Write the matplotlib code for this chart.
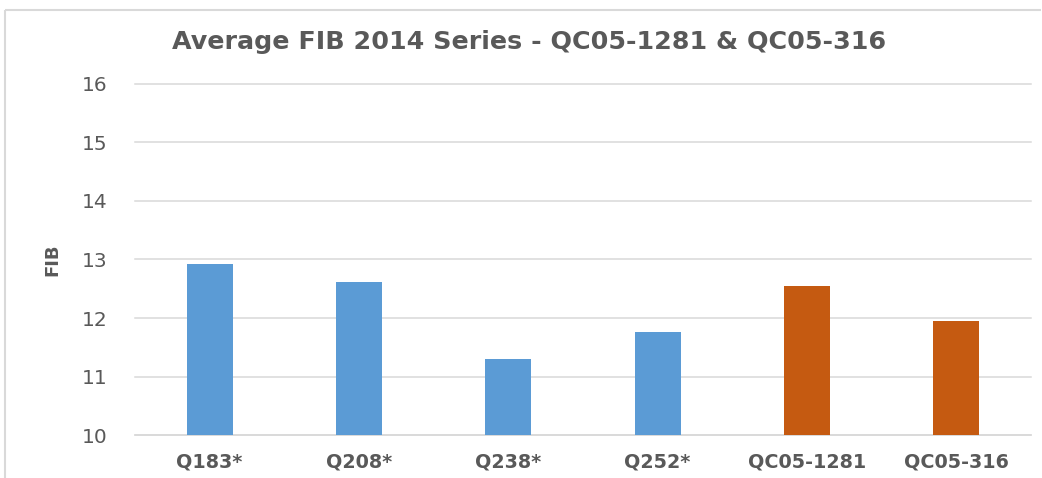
import matplotlib
matplotlib.use("Agg")
import matplotlib.pyplot as plt
from matplotlib.lines import Line2D

categories = ["Q183*", "Q208*", "Q238*", "Q252*", "QC05-1281", "QC05-316"]
values = [12.92, 12.62, 11.30, 11.77, 12.54, 11.95]
bar_colors = ["#5B9BD5", "#5B9BD5", "#5B9BD5", "#5B9BD5", "#C55A11", "#C55A11"]
yticks = [10, 11, 12, 13, 14, 15, 16]
title = "Average FIB 2014 Series - QC05-1281 & QC05-316"
ylabel = "FIB"

plt.rcParams['font.family'] = ['DejaVu Sans']
W, H = 1042, 478
fig = plt.figure(figsize=(W / 100, H / 100), dpi=100)
fig.patch.set_facecolor("white")

# outer chart frame (left and top edges visible)
fig.add_artist(Line2D([4.5 / W, 4.5 / W], [0, 1 - 10 / H], transform=fig.transFigure,
                      color="#D9D9D9", linewidth=1.5, solid_capstyle="butt"))
fig.add_artist(Line2D([4.5 / W, 1 - 1 / W], [1 - 10 / H, 1 - 10 / H], transform=fig.transFigure,
                      color="#D9D9D9", linewidth=1.5, solid_capstyle="butt"))

ax = fig.add_axes([135 / W, 1 - 435.3 / H, (1031 - 135) / W, (435.3 - 83.7) / H])
x = range(len(categories))
ax.bar(x, values, width=0.31, color=bar_colors, zorder=3)
ax.set_xlim(-0.5, len(categories) - 0.5)
ax.set_ylim(10, 16)
ax.set_yticks(yticks)
ax.set_yticklabels([str(t) for t in yticks], fontsize=14.5, color="#595959")
ax.set_xticks(list(x))
ax.set_xticklabels(categories, fontsize=13.8, fontweight="bold", color="#595959")
ax.tick_params(axis="both", length=0)
ax.tick_params(axis="y", pad=20)
ax.tick_params(axis="x", pad=12.5)
ax.grid(axis="y", color="#D9D9D9", linewidth=1.1, zorder=0)
for gl in ax.get_ygridlines():
    gl.set_clip_on(False)
for s in ["top", "right", "left"]:
    ax.spines[s].set_visible(False)
ax.spines["bottom"].set_color("#D9D9D9")
ax.spines["bottom"].set_linewidth(1.1)

fig.text(529.5 / W, 1 - 42 / H, title, ha="center", va="center", fontsize=18.3,
         fontweight="bold", color="#595959")
fig.text(52 / W, 1 - 260 / H, ylabel, ha="center", va="center", rotation=90,
         fontsize=13, fontweight="bold", color="#595959")

fig.savefig("out.png", dpi=100, facecolor="white")
